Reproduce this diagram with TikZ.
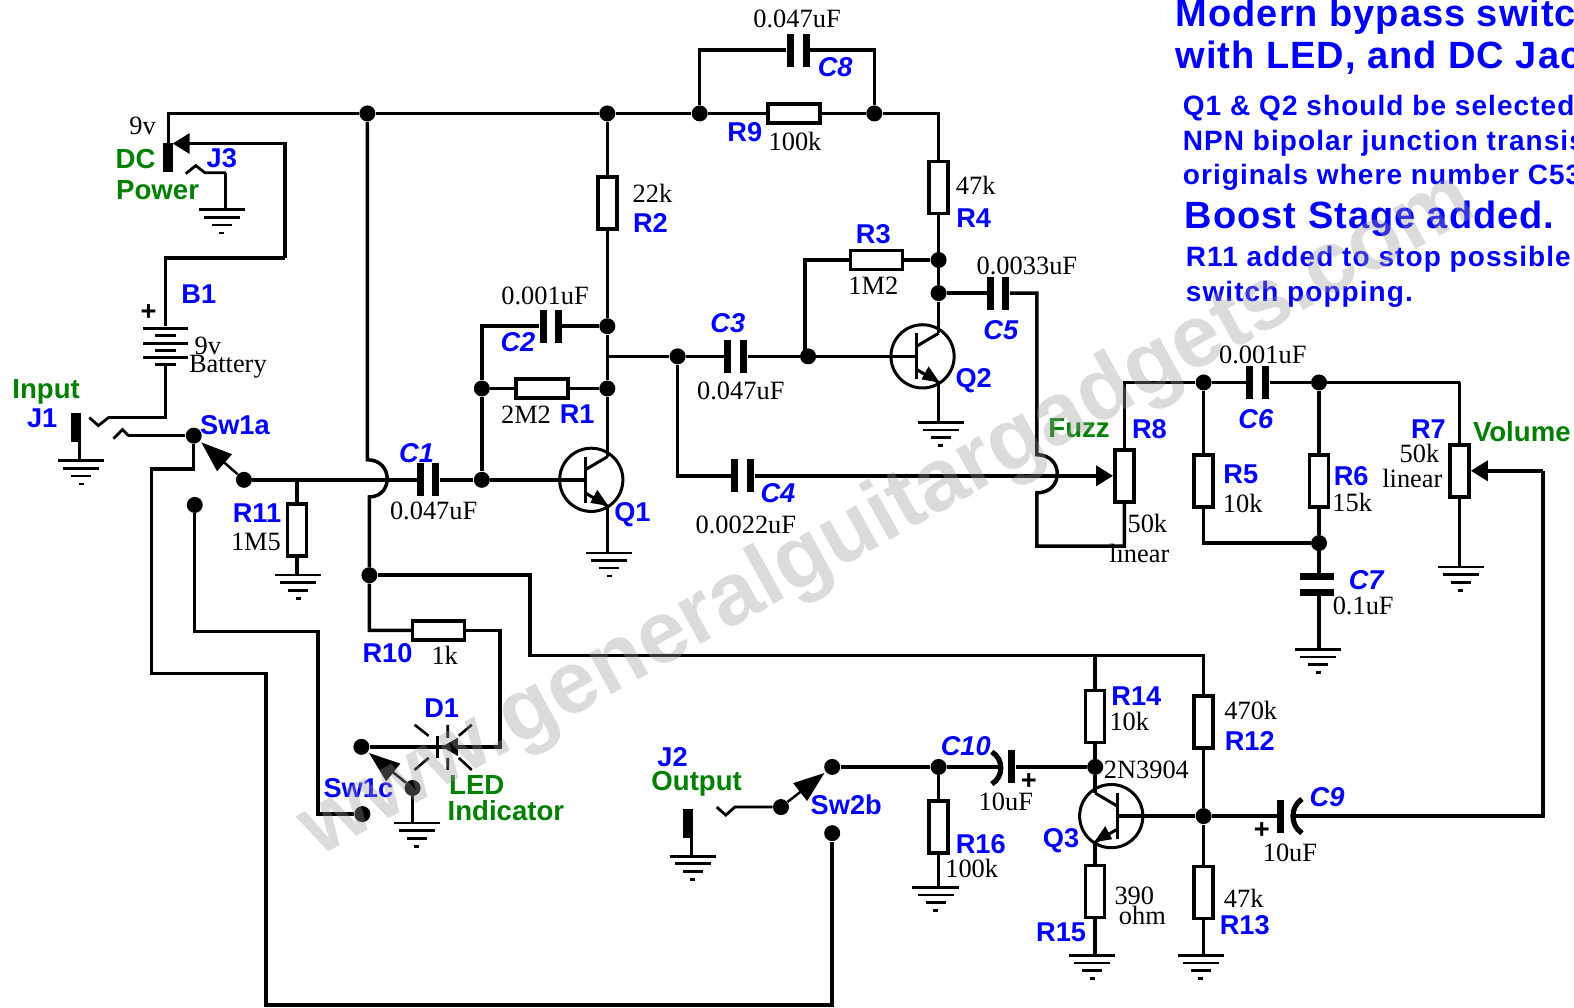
\documentclass[tikz,border=0pt]{standalone}
\usepackage{fontspec}
\setmainfont{Liberation Serif}
\setsansfont{Liberation Sans}
\newfontfamily\headfont[LetterSpace=2.6]{Liberation Sans}
\newfontfamily\notefont[LetterSpace=3.8]{Liberation Sans}
\usetikzlibrary{arrows.meta,calc}
\definecolor{lblblue}{RGB}{0,0,255}
\definecolor{lblgreen}{RGB}{0,128,0}
\tikzset{
  x=0.502pt,y=-0.502pt,
  wire/.style={draw=black,line width=1.75pt,line cap=butt,line join=miter},
  thinw/.style={draw=black,line width=1.25pt},
  res/.style={draw=black,fill=white,line width=1.75pt,inner sep=0pt,rectangle},
  resh/.style={res,minimum width=26pt,minimum height=9.5pt},
  resv/.style={res,minimum width=9.5pt,minimum height=26pt},
  dot/.style={circle,fill=black,inner sep=0pt,minimum size=8pt},
  platev/.style={rectangle,fill=black,inner sep=0pt,minimum width=3.5pt,minimum height=16.5pt},
  plateh/.style={rectangle,fill=black,inner sep=0pt,minimum width=17pt,minimum height=3.5pt},
  cellw/.style={rectangle,fill=black,inner sep=0pt,minimum width=22.5pt,minimum height=1.7pt},
  celln/.style={rectangle,fill=black,inner sep=0pt,minimum width=10.5pt,minimum height=1.7pt},
  jackbar/.style={rectangle,fill=black,inner sep=0pt,minimum width=5pt,minimum height=14.5pt},
  val/.style={font=\fontsize{13.2}{13.2}\selectfont,inner sep=0pt,text=black},
  lbl/.style={font=\sffamily\bfseries\fontsize{13.6}{13.6}\selectfont,inner sep=0pt,text=lblblue},
  lblc/.style={font=\sffamily\bfseries\itshape\fontsize{13.6}{13.6}\selectfont,inner sep=0pt,text=lblblue},
  grn/.style={font=\sffamily\bfseries\fontsize{13.8}{13.8}\selectfont,inner sep=0pt,text=lblgreen},
  head/.style={font=\headfont\bfseries\fontsize{19}{19}\selectfont,inner sep=0pt,text=lblblue,anchor=base west},
  note/.style={font=\notefont\bfseries\fontsize{14}{14}\selectfont,inner sep=0pt,text=lblblue,anchor=base west},
  tri/.style={-{Triangle[length=8.5pt,width=10pt]}},
  swtri/.style={-{Triangle[length=15.5pt,width=11pt]}},
  gnd/.pic={
    \begin{scope}[line width=1.3pt]
      \draw (-23,0) -- (23,0);
      \draw (-18,7.5) -- (18,7.5);
      \draw (-10,15) -- (10,15);
      \draw (-2.5,23) -- (2.5,23);
    \end{scope}
  },
  npn/.pic={
    \draw[line width=1.5pt] (0,0) circle[radius=31.5];
    \draw[line width=1.5pt] (-6,-23) -- (-6,23);
    \draw[line width=1.5pt] (-6,-10) -- (16,-23);
    \draw[line width=1.5pt] (-6,13) -- (16,26);
    \fill (17,26) -- (6,10) -- (-1,23) -- cycle;
    \coordinate (-b) at (-6,0);
    \coordinate (-c) at (16,-23);
    \coordinate (-e) at (16,26);
  }
}
\begin{document}
\begin{tikzpicture}
\useasboundingbox (0,0) rectangle (1568,1004);
\clip (0,0) rectangle (1568,1004);
\fill[white] (0,0) rectangle (1568,1004);

% ---------- junctions and contacts
\node[dot] (jA) at (366,113) {};
\node[dot] (jB) at (605,113) {};
\node[dot] (jC) at (697,113) {};
\node[dot] (jD) at (871,113) {};
\node[dot] (jR3) at (935,259) {};
\node[dot] (jC5) at (935,292) {};
\node[dot] (jC2) at (605,325) {};
\node[dot] (jR1r) at (605,387) {};
\node[dot] (jR1l) at (480,387) {};
\node[dot] (jB1) at (480,478) {};
\node[dot] (jC3) at (675,355) {};
\node[dot] (jB2) at (805,355) {};
\node[dot] (jPow) at (368,573) {};
\node[dot] (jC6l) at (1199,381) {};
\node[dot] (jC6r) at (1314,381) {};
\node[dot] (jC7) at (1314,541) {};
\node[dot] (jR16) at (935,764) {};
\node[dot] (jQ3c) at (1091,764) {};
\node[dot] (jC9) at (1199,813) {};
\node[dot] (swa) at (193,434) {};
\node[dot] (swaC) at (243,478) {};
\node[dot] (swaN) at (194,503) {};
\node[dot] (swcA) at (360,744) {};
\node[dot] (swcC) at (411,785) {};
\node[dot] (swcN) at (361,811) {};
\node[dot] (swbC) at (778,804) {};
\node[dot] (swbA) at (829,764) {};
\node[dot] (swbN) at (829,830) {};

% ---------- resistors
\node[resh] (r9) at (791,113) {};
\node[resh] (r3) at (873,259) {};
\node[resh] (r1) at (540,387) {};
\node[resh] (r10) at (437,628) {};
\node[resv] (r2) at (605,202) {};
\node[resv] (r4) at (935,187) {};
\node[resv] (r11) at (296,528) {};
\node[resv] (r8) at (1120,474) {};
\node[resv] (r5) at (1199,479) {};
\node[resv] (r6) at (1314,479) {};
\node[resv] (r7) at (1454,469) {};
\node[resv] (r14) at (1091,714) {};
\node[resv] (r12) at (1199,719) {};
\node[resv] (r13) at (1199,889) {};
\node[resv] (r15) at (1091,888) {};
\node[resv] (r16) at (935,824) {};

% ---------- capacitors
\node[platev] (c8a) at (787,50) {};
\node[platev] (c8b) at (803,50) {};
\node[platev] (c2a) at (541,325) {};
\node[platev] (c2b) at (556,325) {};
\node[platev] (c3a) at (725,355) {};
\node[platev] (c3b) at (741,355) {};
\node[platev] (c4a) at (732,474) {};
\node[platev] (c4b) at (748,474) {};
\node[platev] (c5a) at (987,292) {};
\node[platev] (c5b) at (1002,292) {};
\node[platev] (c1a) at (419,478) {};
\node[platev] (c1b) at (434,478) {};
\node[platev] (c6a) at (1245,381) {};
\node[platev] (c6b) at (1261,381) {};
\node[plateh] (c7a) at (1312,574) {};
\node[plateh] (c7b) at (1312,590) {};
\node[platev] (c10b) at (1008,764) {};
\node[platev] (c9a) at (1276,813) {};
\coordinate (c10c) at (996,764);
\coordinate (c9c) at (1288,813);
\draw[line width=2.6pt] (988,749) .. controls (1000,756) and (1000,774) .. (988,781);
\draw[line width=2.6pt] (1297,796) .. controls (1285,804) and (1285,822) .. (1297,830);

% ---------- battery and jacks
\node[cellw] (bp1) at (165,327) {};
\node[celln] (bp2) at (165,334) {};
\node[cellw] (bp3) at (165,342) {};
\node[celln] (bp4) at (165,349) {};
\node[cellw] (bp5) at (165,356) {};
\node[celln] (bp6) at (165,363) {};
\node[jackbar] (jk3) at (167,157) {};
\node[jackbar] (jk1) at (76,426) {};
\node[jackbar] (jk2) at (685,820) {};

% ---------- ground points
\coordinate (gJ3) at (225,209);
\coordinate (gJ1) at (79,459);
\coordinate (gR11) at (296,573);
\coordinate (gQ1) at (605,551);
\coordinate (gQ2) at (935,421);
\coordinate (gC7) at (1314,647);
\coordinate (gR7) at (1454,565);
\coordinate (gSw) at (411,820);
\coordinate (gJ2) at (689,853);
\coordinate (gR16) at (935,884);
\coordinate (gR15) at (1091,952);
\coordinate (gR13) at (1199,952);
\foreach \g/\d in {gJ3/-4,gJ1/2,gR11/1,gQ1/2,gQ2/2,gC7/-1,gR7/1,gSw/4,gJ2/1,gR16/-3,gR15/-3,gR13/-3}
  \pic at ($(\g)+(\d,0)$) {gnd};

% ---------- transistors
\pic (q1) at (589,478) {npn};
\pic (q2) at (919,355) {npn};
\pic[xscale=-1] (q3) at (1107,813) {npn};

% ---------- corners
\coordinate (railL) at (168,113);
\coordinate (railR) at (935,113);
\coordinate (c8L) at (697,50);
\coordinate (c8R) at (871,50);
\coordinate (dcTip) at (172,143);
\coordinate (dcA) at (284,143);
\coordinate (dcB) at (284,257);
\coordinate (dcC) at (165,257);
\coordinate (j3A) at (225,172);
\coordinate (batA) at (165,416);
\coordinate (swLow) at (193,467);
\coordinate (swLowB) at (151,467);
\coordinate (swLowC) at (151,671);
\coordinate (swLowD) at (265,671);
\coordinate (swLowE) at (265,1001);
\coordinate (swLowF) at (829,1001);
\coordinate (swNA) at (194,629);
\coordinate (swNB) at (317,629);
\coordinate (swNC) at (317,811);
\coordinate (jumpA) at (366,458);
\coordinate (jumpB) at (368,495);
\coordinate (r10A) at (368,628);
\coordinate (r10B) at (498,628);
\coordinate (r10C) at (498,744);
\coordinate (ledTip) at (438,744);
\coordinate (c2L) at (480,325);
\coordinate (r3L) at (802,259);
\coordinate (powA) at (528,573);
\coordinate (powB) at (528,653);
\coordinate (powC) at (1199,653);
\coordinate (powD) at (1091,653);
\coordinate (c4L) at (675,474);
\coordinate (c5A) at (1033,292);
\coordinate (jumpC) at (1033,453);
\coordinate (jumpD) at (1033,491);
\coordinate (c5B) at (1033,544);
\coordinate (c5C) at (1120,544);
\coordinate (r8T) at (1120,381);
\coordinate (r7T) at (1454,381);
\coordinate (r5B) at (1199,541);
\coordinate (volA) at (1537,813);
\coordinate (volB) at (1537,469);
\coordinate (tapQ1) at (605,355);

% ---------- wires
\draw[wire] (jk3.north -| railL) -- (railL) -- (jA) -- (jB) -- (jC) -- (r9) -- (jD) -- (railR) -- (r4);
\draw[wire,tri] (dcB) -- (dcA) -- (dcTip);
\draw[wire] (dcB) -- (dcC) -- (bp1);
\draw[wire,line width=1.4pt] (185,173) -- ++(10,-8) -- ++(9,7) -- (j3A);
\draw[wire,line width=1.5pt] (j3A) -- (gJ3);
\draw[wire] (bp6) -- (batA) -- (108,416);
\draw[wire,line width=1.4pt] (108,416) -- ++(-10,8) -- ++(-9,-8);
\draw[wire,line width=1.4pt] (128,434) -- ++(-6,-6) -- ++(-9,9);
\draw[wire,line width=1.4pt] (128,434) -- (swa);
\draw[wire] (gJ1 |- jk1) -- (gJ1);
\draw[wire] (swa) -- (swLow) -- (swLowB) -- (swLowC) -- (swLowD) -- (swLowE) -- (swLowF) -- (swbN);
\draw[wire] (swaN) -- (swNA) -- (swNB) -- (swNC) -- (swcN);
\draw[thinw,swtri] (swaC) -- ($(swaC)!0.85!(swa)$);
\draw[wire] (swaC) -- (c1a);
\draw[wire] (c1b) -- (jB1) -- (q1-b);
\draw[wire] (r11 |- swaC) -- (r11);
\draw[wire] (r11) -- (gR11);
\draw[wire] (jA) -- (jumpA) .. controls (392,458) and (392,495) .. (jumpB) -- (jPow) -- (r10A) -- (r10);
\draw[wire] (r10) -- (r10B) -- (r10C) -- (ledTip);
\draw[wire] (ledTip) -- (swcA);
\draw[wire] (jPow) -- (powA) -- (powB) -- (powC) -- (r12);
\draw[wire] (r12) -- (jC9) -- (r13);
\draw[wire] (r13) -- (gR13);
\draw[wire] (powD) -- (r14);
\draw[wire] (r14) -- (jQ3c) -- (q3-c);
\draw[wire] (q3-e) -- (r15);
\draw[wire] (r15) -- (gR15);
\draw[wire] (jC9) -- (q3-b);
\draw[wire] (jC9) -- (c9a);
\draw[wire] (c9c) -- (volA) -- (volB);
\draw[wire,tri] (volB) -- (r7);
\draw[wire] (r7T) -- (r7);
\draw[wire] (r7) -- (gR7);
\draw[wire] (jB) -- (r2);
\draw[wire] (r2) -- (jC2) -- (jR1r) -- (q1-c);
\draw[wire] (q1-e) -- (gQ1);
\draw[wire] (jC2) -- (c2b);
\draw[wire] (c2a) -- (c2L) -- (jR1l) -- (jB1);
\draw[wire] (jR1l) -- (r1);
\draw[wire] (r1) -- (jR1r);
\draw[wire] (tapQ1) -- (jC3) -- (c3a);
\draw[wire] (c3b) -- (jB2) -- (q2-b);
\draw[wire] (jB2) -- (r3L |- jB2) -- (r3L) -- (r3);
\draw[wire] (r3) -- (jR3);
\draw[wire] (r4) -- (jR3) -- (jC5) -- (q2-c);
\draw[wire] (q2-e) -- (gQ2);
\draw[wire] (jC) -- (c8L) -- (c8a);
\draw[wire] (c8b) -- (c8R) -- (jD);
\draw[wire] (jC5) -- (c5a);
\draw[wire] (c5b) -- (c5A) -- (jumpC) .. controls (1060,453) and (1060,491) .. (jumpD) -- (c5B) -- (c5C) -- (r8);
\draw[wire] (jC3) -- (c4L) -- (c4a);
\draw[wire,tri] (c4b) -- (r8);
\draw[wire] (r8) -- (r8T) -- (jC6l) -- (c6a);
\draw[wire] (c6b) -- (jC6r) -- (r7T);
\draw[wire] (jC6l) -- (r5);
\draw[wire] (r5) -- (r5B) -- (jC7);
\draw[wire] (jC6r) -- (r6);
\draw[wire] (r6) -- (jC7) -- (jC7 |- c7a);
\draw[wire] (jC7 |- c7b) -- (gC7);
\draw[wire] (jk2.south -| gJ2) -- (gJ2);
\draw[wire,line width=1.4pt] (714,804) -- ++(9,8) -- ++(9,-8) -- (swbC);
\draw[thinw,swtri] (swbC) -- ($(swbC)!0.85!(swbA)$);
\draw[wire] (swbA) -- (jR16) -- (c10c);
\draw[wire] (c10b) -- (jQ3c);
\draw[wire] (jR16) -- (r16);
\draw[wire] (r16) -- (gR16);
\draw[wire,line width=1.4pt] (swcC) -- (gSw);
\draw[thinw,swtri] (swcC) -- ($(swcC)!0.85!(swcA)$);

% ---------- LED
\fill (440,744) -- (456,735) -- (456,753) -- cycle;
\draw[line width=1.3pt] (436,733) -- (436,755);
\draw[line width=1.3pt] (413,722) -- (427,733) (446,722) -- (446,735) (470,722) -- (457,733)
  (427,755) -- (413,767) (446,755) -- (446,767) (457,755) -- (470,767);

% ---------- values
\node[val] (v1) at (794,19) {0.047uF};
\node[val] (v2) at (792,141) {100k};
\node[val] (v3) at (972,185) {47k};
\node[val] (v4) at (650,193) {22k};
\node[val] (v5) at (870,285) {1M2};
\node[val] (v6) at (1023,265) {0.0033uF};
\node[val] (v7) at (543,295) {0.001uF};
\node[val] (v8) at (524,413) {2M2};
\node[val] (v9) at (738,389) {0.047uF};
\node[val] (v10) at (743,523) {0.0022uF};
\node[val] (v11) at (432,509) {0.047uF};
\node[val] (v12) at (255,540) {1M5};
\node[val] (v13) at (443,653) {1k};
\node[val] (v14) at (142,125) {9v};
\node[val] (v15) at (207,345) {9v};
\node[val] (v16) at (227,365) {Battery};
\node[val] (v17) at (1258,354) {0.001uF};
\node[val] (v18) at (1143,521) {50k};
\node[val] (v19) at (1135,551) {linear};
\node[val] (v20) at (1238,502) {10k};
\node[val] (v21) at (1347,501) {15k};
\node[val] (v22) at (1358,604) {0.1uF};
\node[val] (v23) at (1414,452) {50k};
\node[val] (v24) at (1407,477) {linear};
\node[val] (v25) at (1125,719) {10k};
\node[val] (v26) at (1142,767) {2N3904};
\node[val] (v27) at (1246,708) {470k};
\node[val] (v28) at (1239,895) {47k};
\node[val] (v29) at (1130,892) {390};
\node[val] (v30) at (1138,912) {ohm};
\node[val] (v31) at (1002,799) {10uF};
\node[val] (v32) at (1285,850) {10uF};
\node[val] (v33) at (968,865) {100k};

% ---------- blue labels
\node[lbl] (l1) at (742,132) {R9};
\node[lbl] (l2) at (970,217) {R4};
\node[lbl] (l3) at (870,233) {R3};
\node[lbl] (l4) at (648,222) {R2};
\node[lbl] (l5) at (575,413) {R1};
\node[lbl] (l6) at (630,513) {Q1};
\node[lbl] (l7) at (970,379) {Q2};
\node[lbl] (l8) at (256,511) {R11};
\node[lbl] (l9) at (386,651) {R10};
\node[lbl] (l10) at (198,293) {B1};
\node[lbl] (l11) at (221,158) {J3};
\node[lbl] (l12) at (42,417) {J1};
\node[lbl] (l13) at (234,424) {Sw1a};
\node[lbl] (l14) at (440,705) {D1};
\node[lbl] (l15) at (357,785) {Sw1c};
\node[lbl] (l16) at (670,754) {J2};
\node[lbl] (l17) at (843,802) {Sw2b};
\node[lbl] (l18) at (977,841) {R16};
\node[lbl] (l19) at (1132,693) {R14};
\node[lbl] (l20) at (1245,738) {R12};
\node[lbl] (l21) at (1240,922) {R13};
\node[lbl] (l22) at (1057,929) {R15};
\node[lbl] (l23) at (1057,837) {Q3};
\node[lbl] (l24) at (1145,428) {R8};
\node[lbl] (l25) at (1236,472) {R5};
\node[lbl] (l26) at (1346,474) {R6};
\node[lbl] (l27) at (1423,428) {R7};
\node[lblc] (l28) at (832,67) {C8};
\node[lblc] (l29) at (516,341) {C2};
\node[lblc] (l30) at (725,322) {C3};
\node[lblc] (l31) at (775,491) {C4};
\node[lblc] (l32) at (997,329) {C5};
\node[lblc] (l33) at (415,451) {C1};
\node[lblc] (l34) at (1251,418) {C6};
\node[lblc] (l35) at (1361,578) {C7};
\node[lblc] (l36) at (962,743) {C10};
\node[lblc] (l37) at (1322,794) {C9};

% ---------- plus signs
\node[lbl,text=black] (p1) at (148,311) {+};
\node[lbl,text=black] (p2) at (1025,779) {+};
\node[lbl,text=black] (p3) at (1257,827) {+};

% ---------- green labels
\node[grn] (g1) at (135,158) {DC};
\node[grn] (g2) at (157,189) {Power};
\node[grn] (g3) at (46,390) {Input};
\node[grn] (g4) at (475,782) {LED};
\node[grn] (g5) at (504,808) {Indicator};
\node[grn] (g6) at (694,781) {Output};
\node[grn] (g7) at (1075,427) {Fuzz};
\node[grn] (g8) at (1516,430) {Volume};

% ---------- notes
\node[head] (h1) at (1171,26) {Modern bypass switc};
\node[head] (h2) at (1171,68) {with LED, and DC Jac};
\node[note] (n1) at (1178,115) {Q1 \& Q2 should be selected};
\node[note] (n2) at (1178,150) {NPN bipolar junction transis};
\node[note] (n3) at (1178,184) {originals where number C53};
\node[head] (h3) at (1180,228) {Boost Stage added.};
\node[note] (n4) at (1181,265) {R11 added to stop possible};
\node[note] (n5) at (1181,300) {switch popping.};

% ---------- watermark
\node[font=\sffamily\bfseries\fontsize{44}{44}\selectfont,text=black!40,opacity=0.35,rotate=29,inner sep=0pt] (wm) at (884,514) {www.generalguitargadgets.com};
\end{tikzpicture}
\end{document}
